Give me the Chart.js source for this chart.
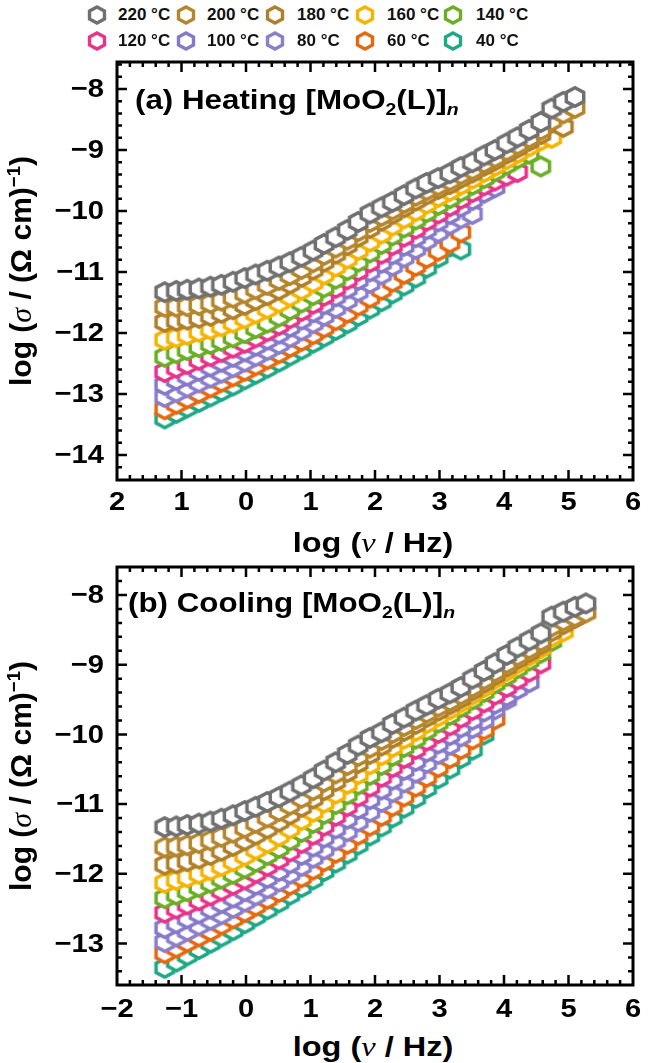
<!DOCTYPE html>
<html>
<head>
<meta charset="utf-8">
<script src="https://cdn.jsdelivr.net/npm/chart.js@4.4.1/dist/chart.umd.min.js"></script>
<style>
  body { margin: 0; background: #fff; font-family: "Liberation Sans", Arial, sans-serif; }
  #wrap { position: relative; width: 658px; height: 1063px; overflow: hidden; }
  canvas.plot { position: absolute; left: 0; }
  .txt { position: absolute; font-weight: bold; color: #000; white-space: nowrap; }
  .lgtxt { position: absolute; font-weight: bold; font-size: 17px; line-height: 20px; color: #111; white-space: nowrap; }
  .gr { font-family: "Liberation Serif", "DejaVu Serif", serif; font-style: italic; font-weight: normal; }
  sub, sup { font-size: 0.62em; line-height: 0; }
</style>
</head>
<body>
<div id="wrap">
  <canvas id="heat" class="plot" width="658" height="480" style="top:50px;width:658px;height:480px"></canvas>
  <canvas id="cool" class="plot" width="658" height="480" style="top:550px;width:658px;height:480px"></canvas>

  <div class="txt" style="left:135px;top:85px;font-size:27px;line-height:30px;transform-origin:left center;transform:scaleX(1.16)">(a) Heating [MoO<sub>2</sub>(L)]<sub><i>n</i></sub></div>
  <div class="txt" style="left:128px;top:588px;font-size:27px;line-height:30px;transform-origin:left center;transform:scaleX(1.16)">(b) Cooling [MoO<sub>2</sub>(L)]<sub><i>n</i></sub></div>

  <div class="txt" style="left:373px;top:543px;font-size:28px;line-height:30px;transform:translate(-50%,-50%) scaleX(1.16)">log (<span class="gr">ν</span> / Hz)</div>
  <div class="txt" style="left:373px;top:1047px;font-size:28px;line-height:30px;transform:translate(-50%,-50%) scaleX(1.16)">log (<span class="gr">ν</span> / Hz)</div>

  <div class="txt" style="left:21px;top:271px;font-size:30px;line-height:32px;transform:translate(-50%,-50%) rotate(-90deg)">log (<span class="gr">σ</span> / (Ω cm)<sup>−1</sup>)</div>
  <div class="txt" style="left:21px;top:776px;font-size:30px;line-height:32px;transform:translate(-50%,-50%) rotate(-90deg)">log (<span class="gr">σ</span> / (Ω cm)<sup>−1</sup>)</div>

  <div id="legend"></div>
</div>
<script>
// log frequency grid (shared by every series, each series stops where its data stops)
const xGrid = [-1.26, -1.08, -0.91, -0.73, -0.55, -0.38, -0.20, -0.02, 0.15, 0.33,
  0.51, 0.68, 0.86, 1.04, 1.21, 1.39, 1.57, 1.74, 1.92, 2.10,
  2.27, 2.45, 2.63, 2.80, 2.98, 3.16, 3.33, 3.51, 3.69, 3.86,
  4.04, 4.21, 4.39, 4.57, 4.74, 4.92, 5.10, 5.27];

const temps = ['220 °C', '200 °C', '180 °C', '160 °C', '140 °C', '120 °C', '100 °C', '80 °C', '60 °C', '40 °C'];
const colors = ['#707070', '#b5862c', '#b07f29', '#f4b400', '#6aae24', '#e8338b', '#8579c9', '#8b7ecb', '#e5690e', '#1fa886'];

// (a) heating
const heat220 = [-11.33,-11.31,-11.29,-11.27,-11.24,-11.21,-11.16,-11.10,-11.04,-10.98,-10.91,-10.84,-10.75,-10.65,-10.54,-10.43,-10.31,-10.18,-10.04,-9.94,-9.85,-9.74,-9.63,-9.54,-9.46,-9.38,-9.28,-9.20,-9.09,-9.00,-8.89,-8.79,-8.67,-8.54,-8.32,-8.21,-8.13];
const heat200 = [-11.57,-11.57,-11.56,-11.54,-11.51,-11.47,-11.42,-11.35,-11.28,-11.21,-11.13,-11.05,-10.95,-10.84,-10.72,-10.60,-10.47,-10.33,-10.18,-10.08,-9.98,-9.87,-9.75,-9.66,-9.58,-9.50,-9.40,-9.32,-9.21,-9.12,-9.01,-8.91,-8.80,-8.67,-8.52,-8.40,-8.31];
const heat180 = [-11.82,-11.80,-11.78,-11.75,-11.72,-11.67,-11.61,-11.54,-11.46,-11.38,-11.29,-11.19,-11.08,-10.96,-10.83,-10.70,-10.56,-10.42,-10.28,-10.16,-10.05,-9.94,-9.83,-9.73,-9.64,-9.56,-9.46,-9.37,-9.26,-9.17,-9.06,-8.96,-8.85,-8.74,-8.55,-8.62];
const heat160 = [-12.11,-12.07,-12.03,-11.98,-11.94,-11.89,-11.83,-11.76,-11.68,-11.60,-11.50,-11.40,-11.29,-11.17,-11.04,-10.91,-10.78,-10.64,-10.50,-10.37,-10.24,-10.12,-10.00,-9.88,-9.77,-9.67,-9.57,-9.47,-9.36,-9.26,-9.15,-9.05,-8.94,-8.84,-8.80];
const heat140 = [-12.39,-12.33,-12.28,-12.23,-12.18,-12.13,-12.07,-12.00,-11.92,-11.83,-11.73,-11.62,-11.50,-11.38,-11.25,-11.11,-10.97,-10.83,-10.68,-10.54,-10.40,-10.27,-10.14,-10.02,-9.90,-9.79,-9.68,-9.57,-9.46,-9.35,-9.24,-9.14,-9.06,-9.27];
const heat120 = [-12.64,-12.57,-12.51,-12.44,-12.38,-12.31,-12.24,-12.16,-12.07,-11.97,-11.87,-11.76,-11.64,-11.52,-11.39,-11.26,-11.12,-10.98,-10.84,-10.70,-10.56,-10.42,-10.29,-10.16,-10.04,-9.92,-9.80,-9.69,-9.58,-9.50,-9.42,-9.36];
const heat100 = [-12.85,-12.77,-12.70,-12.62,-12.55,-12.47,-12.39,-12.30,-12.21,-12.11,-12.01,-11.90,-11.78,-11.66,-11.53,-11.40,-11.27,-11.13,-10.99,-10.85,-10.71,-10.57,-10.43,-10.30,-10.17,-10.05,-9.93,-9.82,-9.70,-9.61];
const heat80 = [-13.05,-12.97,-12.89,-12.81,-12.73,-12.65,-12.56,-12.47,-12.38,-12.28,-12.18,-12.07,-11.96,-11.84,-11.72,-11.59,-11.46,-11.32,-11.18,-11.04,-10.90,-10.76,-10.62,-10.48,-10.35,-10.22,-10.12,-10.05];
const heat60 = [-13.25,-13.16,-13.07,-12.98,-12.89,-12.80,-12.71,-12.62,-12.53,-12.43,-12.33,-12.23,-12.13,-12.02,-11.91,-11.79,-11.67,-11.55,-11.42,-11.29,-11.16,-11.03,-10.90,-10.77,-10.65,-10.52,-10.35];
const heat40 = [-13.40,-13.31,-13.22,-13.13,-13.04,-12.95,-12.86,-12.76,-12.67,-12.57,-12.47,-12.37,-12.27,-12.16,-12.06,-11.95,-11.84,-11.72,-11.60,-11.48,-11.35,-11.22,-11.09,-10.93,-10.76,-10.58,-10.63];

// (b) cooling
const cool220 = [-11.33,-11.32,-11.30,-11.28,-11.25,-11.21,-11.16,-11.10,-11.04,-10.97,-10.90,-10.82,-10.73,-10.63,-10.52,-10.40,-10.28,-10.16,-10.05,-9.97,-9.85,-9.76,-9.66,-9.58,-9.49,-9.41,-9.32,-9.20,-9.09,-8.98,-8.86,-8.75,-8.65,-8.55,-8.31,-8.24,-8.17,-8.12];
const cool200 = [-11.62,-11.61,-11.59,-11.56,-11.52,-11.47,-11.41,-11.34,-11.27,-11.19,-11.10,-11.01,-10.91,-10.80,-10.68,-10.56,-10.44,-10.31,-10.19,-10.08,-9.98,-9.88,-9.78,-9.69,-9.60,-9.52,-9.43,-9.32,-9.21,-9.10,-8.98,-8.87,-8.77,-8.66,-8.45,-8.37,-8.31,-8.25];
const cool180 = [-11.87,-11.85,-11.82,-11.78,-11.73,-11.67,-11.60,-11.52,-11.44,-11.35,-11.25,-11.15,-11.04,-10.92,-10.80,-10.67,-10.54,-10.41,-10.28,-10.16,-10.05,-9.95,-9.85,-9.75,-9.66,-9.57,-9.48,-9.37,-9.26,-9.15,-9.03,-8.92,-8.82,-8.71,-8.52,-8.42,-8.33];
const cool160 = [-12.13,-12.09,-12.05,-12.00,-11.95,-11.89,-11.82,-11.74,-11.65,-11.56,-11.46,-11.35,-11.23,-11.11,-10.98,-10.85,-10.71,-10.57,-10.43,-10.30,-10.18,-10.06,-9.95,-9.84,-9.74,-9.64,-9.54,-9.43,-9.32,-9.20,-9.09,-8.98,-8.87,-8.76,-8.60,-8.52];
const cool140 = [-12.35,-12.30,-12.25,-12.19,-12.13,-12.07,-12.00,-11.92,-11.83,-11.73,-11.63,-11.52,-11.40,-11.27,-11.14,-11.00,-10.86,-10.72,-10.58,-10.44,-10.31,-10.18,-10.06,-9.94,-9.83,-9.72,-9.61,-9.50,-9.39,-9.27,-9.16,-9.05,-8.94,-8.83,-8.66];
const cool120 = [-12.56,-12.50,-12.44,-12.38,-12.31,-12.24,-12.16,-12.08,-11.99,-11.89,-11.79,-11.68,-11.56,-11.44,-11.31,-11.17,-11.03,-10.89,-10.75,-10.61,-10.47,-10.34,-10.21,-10.09,-9.98,-9.87,-9.76,-9.65,-9.54,-9.43,-9.32,-9.21,-9.10,-8.98];
const cool100 = [-12.78,-12.71,-12.64,-12.57,-12.50,-12.42,-12.34,-12.25,-12.16,-12.06,-11.96,-11.85,-11.73,-11.61,-11.48,-11.35,-11.21,-11.07,-10.93,-10.79,-10.65,-10.51,-10.38,-10.25,-10.13,-10.01,-9.90,-9.79,-9.67,-9.56,-9.45,-9.35,-9.25];
const cool80 = [-12.98,-12.90,-12.82,-12.74,-12.66,-12.58,-12.49,-12.40,-12.31,-12.21,-12.11,-12.00,-11.89,-11.77,-11.65,-11.52,-11.39,-11.25,-11.11,-10.97,-10.83,-10.69,-10.55,-10.41,-10.28,-10.15,-10.03,-9.91,-9.79,-9.64,-9.50];
const cool60 = [-13.14,-13.06,-12.98,-12.90,-12.82,-12.73,-12.64,-12.55,-12.46,-12.36,-12.26,-12.16,-12.05,-11.94,-11.82,-11.70,-11.57,-11.44,-11.31,-11.17,-11.03,-10.89,-10.75,-10.61,-10.47,-10.34,-10.21,-10.07,-9.93,-9.78];
const cool40 = [-13.35,-13.26,-13.17,-13.08,-12.99,-12.90,-12.81,-12.71,-12.61,-12.51,-12.41,-12.30,-12.19,-12.08,-11.96,-11.84,-11.71,-11.58,-11.45,-11.32,-11.19,-11.05,-10.91,-10.77,-10.63,-10.49,-10.34,-10.22,-10.00];

// ticks
const xTickVals = [-2, -1, 0, 1, 2, 3, 4, 5, 6];
const xTickLabelsA = ['2', '1', '0', '1', '2', '3', '4', '5', '6'];
const xTickLabelsB = ['\u22122', '\u22121', '0', '1', '2', '3', '4', '5', '6'];
const yTickValsA = [-8, -9, -10, -11, -12, -13, -14];
const yTickLabelsA = ['\u22128', '\u22129', '\u221210', '\u221211', '\u221212', '\u221213', '\u221214'];
const yTickValsB = [-8, -9, -10, -11, -12, -13];
const yTickLabelsB = ['\u22128', '\u22129', '\u221210', '\u221211', '\u221212', '\u221213'];

const heatSeries = [heat220, heat200, heat180, heat160, heat140, heat120, heat100, heat80, heat60, heat40];
const coolSeries = [cool220, cool200, cool180, cool160, cool140, cool120, cool100, cool80, cool60, cool40];

const FONT = '"Liberation Sans", Arial, sans-serif';

// open hexagon marker, white inside
function hexImage(color, size, lw) {
  const c = document.createElement('canvas');
  c.width = 26; c.height = 26;
  const g = c.getContext('2d');
  g.beginPath();
  for (let k = 0; k < 6; k++) {
    const a = Math.PI / 180 * (60 * k - 90);
    const px = 13 + size * 1.08 * Math.cos(a);
    const py = 13 + size * Math.sin(a);
    if (k === 0) g.moveTo(px, py); else g.lineTo(px, py);
  }
  g.closePath();
  g.fillStyle = '#fff';
  g.fill();
  g.lineWidth = lw;
  g.lineJoin = 'miter';
  g.strokeStyle = color;
  g.stroke();
  return c;
}

// frame with inward ticks on all four sides + tick labels
const framePlugin = {
  id: 'frame',
  afterDraw(chart, args, opts) {
    const { ctx, chartArea: a } = chart;
    const xs = chart.scales.x, ys = chart.scales.y;
    ctx.save();
    ctx.strokeStyle = '#000';
    ctx.lineCap = 'butt';
    ctx.lineWidth = 2.5;
    ctx.beginPath();
    for (let k = Math.ceil(xs.min * 5 - 1e-6); k <= Math.floor(xs.max * 5 + 1e-6); k++) {
      const px = xs.getPixelForValue(k / 5);
      if (px < a.left + 2 || px > a.right - 2) continue;
      const len = k % 5 === 0 ? 10 : 5;
      ctx.moveTo(px, a.bottom); ctx.lineTo(px, a.bottom - len);
      ctx.moveTo(px, a.top); ctx.lineTo(px, a.top + len);
    }
    for (let k = Math.ceil(ys.min * 5 - 1e-6); k <= Math.floor(ys.max * 5 + 1e-6); k++) {
      const py = ys.getPixelForValue(k / 5);
      if (py < a.top + 2 || py > a.bottom - 2) continue;
      const len = k % 5 === 0 ? 10 : 5;
      ctx.moveTo(a.left, py); ctx.lineTo(a.left + len, py);
      ctx.moveTo(a.right, py); ctx.lineTo(a.right - len, py);
    }
    ctx.stroke();
    ctx.lineWidth = 3;
    ctx.strokeRect(a.left, a.top, a.right - a.left, a.bottom - a.top);

    ctx.fillStyle = '#000';
    ctx.font = 'bold 26px ' + FONT;
    ctx.textBaseline = 'middle';
    ctx.textAlign = 'center';
    xTickVals.forEach((v, i) => {
      ctx.save();
      ctx.translate(xs.getPixelForValue(v), a.bottom + opts.xLabelGap);
      ctx.scale(1.12, 1);
      ctx.fillText(opts.xLabels[i], 0, 0);
      ctx.restore();
    });
    ctx.textAlign = 'right';
    opts.yVals.forEach((v, i) => {
      ctx.save();
      ctx.translate(a.left - 13, ys.getPixelForValue(v) + 1);
      ctx.scale(1.12, 1);
      ctx.fillText(opts.yLabels[i], 0, 0);
      ctx.restore();
    });
    ctx.restore();
  }
};

function makePanel(id, series, yMin, yMax, yVals, yLabels, xLabels, padTop, xAxisH, xLabelGap) {
  const datasets = series.map((ys, s) => ({
    label: temps[s],
    data: ys.map((y, i) => ({ x: xGrid[i], y: y })),
    pointStyle: hexImage(colors[s], 9.3, 3.5),
    pointRadius: 9,
    showLine: false
  }));
  new Chart(document.getElementById(id).getContext('2d'), {
    type: 'scatter',
    data: { datasets },
    options: {
      responsive: false,
      animation: false,
      devicePixelRatio: 1,
      layout: { padding: { top: padTop, right: 25, bottom: 0, left: 0 } },
      plugins: {
        legend: { display: false },
        tooltip: { enabled: false },
        frame: { xLabels: xLabels, yVals: yVals, yLabels: yLabels, xLabelGap: xLabelGap }
      },
      scales: {
        x: {
          type: 'linear', min: -2, max: 6,
          grid: { display: false }, border: { display: false },
          ticks: { display: false },
          afterFit(scale) { scale.height = xAxisH; }
        },
        y: {
          type: 'linear', min: yMin, max: yMax,
          grid: { display: false }, border: { display: false },
          ticks: { display: false },
          afterFit(scale) { scale.width = 117; }
        }
      }
    },
    plugins: [framePlugin]
  });
}

makePanel('heat', heatSeries, -14.41, -7.557, yTickValsA, yTickLabelsA, xTickLabelsA, 12, 50, 23);
makePanel('cool', coolSeries, -13.596, -7.598, yTickValsB, yTickLabelsB, xTickLabelsB, 17, 45, 25);

// legend, two rows of five
const lgIconX = [97, 186, 275, 365, 453];
const lgTextX = [118, 207, 297, 387, 476];
const lgRowY = [15, 41];
const legend = document.getElementById('legend');
temps.forEach((t, s) => {
  const row = Math.floor(s / 5), col = s % 5;
  const icon = hexImage(colors[s], 8, 3.4);
  icon.style.position = 'absolute';
  icon.style.left = (lgIconX[col] - 13) + 'px';
  icon.style.top = (lgRowY[row] - 13) + 'px';
  legend.appendChild(icon);
  const d = document.createElement('div');
  d.className = 'lgtxt';
  d.style.left = lgTextX[col] + 'px';
  d.style.top = (lgRowY[row] - 10) + 'px';
  d.textContent = t;
  legend.appendChild(d);
});
</script>
</body>
</html>
